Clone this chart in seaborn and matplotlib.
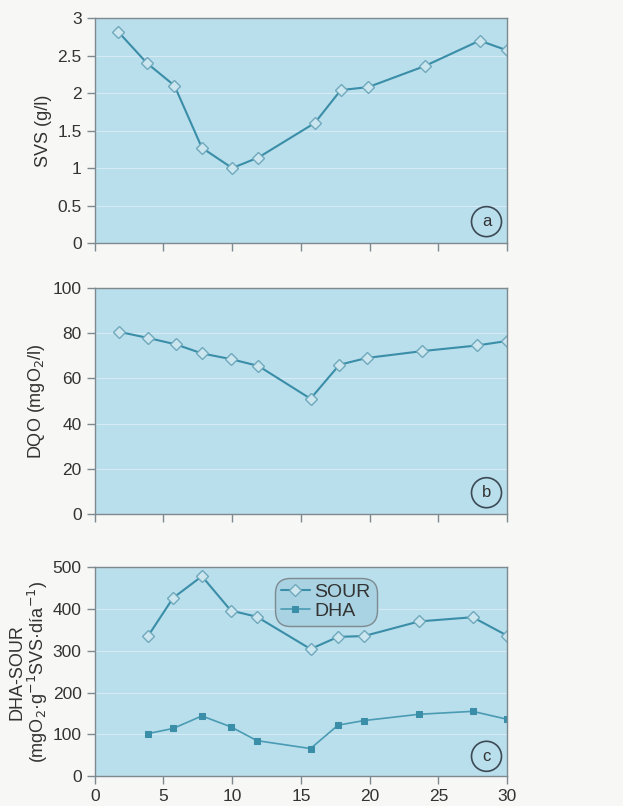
import matplotlib
matplotlib.use("Agg")
import matplotlib.pyplot as plt
import seaborn as sns
import pandas as pd

# datos
dias_svs = [1.7, 3.8, 5.8, 7.8, 10.0, 11.9, 16.0, 17.9, 19.9, 24.0, 28.0, 30.0]
svs = [2.82, 2.40, 2.10, 1.27, 1.00, 1.14, 1.60, 2.04, 2.08, 2.36, 2.70, 2.57]

dias_dqo = [1.8, 3.9, 5.9, 7.8, 9.9, 11.9, 15.7, 17.8, 19.8, 23.8, 27.8, 30.0]
dqo = [80.5, 77.8, 75.0, 71.0, 68.5, 65.5, 51.0, 66.0, 69.0, 72.0, 74.5, 76.5]

dias_c = [3.9, 5.7, 7.8, 9.9, 11.8, 15.7, 17.7, 19.6, 23.6, 27.5, 30.0]
sour = [336, 426, 478, 396, 381, 304, 333, 335, 370, 380, 336]
dha = [102, 114, 144, 118, 85, 66, 122, 133, 148, 155, 136]

fondo = "#b9deec"
linea = "#3a8ea8"
relleno = "#cbe6ef"

sns.set_style("ticks")
plt.rcParams["font.family"] = ["Liberation Sans", "DejaVu Sans"]

fig = plt.figure(figsize=(6.23, 8.06), dpi=100)
fig.patch.set_facecolor("#f7f7f5")

izq, ancho = 0.152, 0.662
ax_a = fig.add_axes([izq, 0.6985, ancho, 0.279])
ax_b = fig.add_axes([izq, 0.362, ancho, 0.281])
ax_c = fig.add_axes([izq, 0.037, ancho, 0.2595])

estilo = dict(color=linea, lw=1.5, marker="D", markersize=6.5,
              markerfacecolor=relleno, markeredgecolor="#6fa9bb",
              markeredgewidth=1.0)

sns.lineplot(x=dias_svs, y=svs, ax=ax_a, **estilo)
sns.lineplot(x=dias_dqo, y=dqo, ax=ax_b, **estilo)

df = pd.DataFrame({"dia": dias_c + dias_c,
                   "valor": sour + dha,
                   "serie": ["SOUR"] * len(sour) + ["DHA"] * len(dha)})
sns.lineplot(data=df[df.serie == "SOUR"], x="dia", y="valor", ax=ax_c,
             label="SOUR", **estilo)
sns.lineplot(data=df[df.serie == "DHA"], x="dia", y="valor", ax=ax_c,
             color="#4a9bb3", lw=1.2, marker="s", markersize=4.5,
             markerfacecolor="#3a8ea8", markeredgecolor="#3a8ea8",
             label="DHA")

ajustes = [
    (ax_a, (0, 3), [0, 0.5, 1, 1.5, 2, 2.5, 3], ["0", "0.5", "1", "1.5", "2", "2.5", "3"], "SVS (g/l)", "a"),
    (ax_b, (0, 100), [0, 20, 40, 60, 80, 100], ["0", "20", "40", "60", "80", "100"], "DQO (mgO$_2$/l)", "b"),
    (ax_c, (0, 500), [0, 100, 200, 300, 400, 500], ["0", "100", "200", "300", "400", "500"],
     "DHA-SOUR\n(mgO$_2$·g$^{-1}$SVS·día$^{-1}$)", "c"),
]

for ax, lim, ticks, etiquetas, ylab, letra in ajustes:
    ax.set_facecolor(fondo)
    ax.set_xlim(0, 30)
    ax.set_ylim(*lim)
    ax.set_yticks(ticks)
    ax.set_yticklabels(etiquetas)
    ax.set_xticks([0, 5, 10, 15, 20, 25, 30])
    ax.grid(axis="y", color="#d6ecf4", lw=0.8)
    ax.set_axisbelow(True)
    for s in ax.spines.values():
        s.set_color("#7d8a90")
        s.set_linewidth(1.0)
    ax.tick_params(axis="both", colors="#7d8a90", labelcolor="#333333",
                   labelsize=12.5, length=6, width=1.0, direction="out")
    ax.set_ylabel(ylab, fontsize=13, color="#333333", labelpad=4,
                  linespacing=1.0)
    ax.set_xlabel("")
    # letra del panel dentro de un circulo
    ax.text(0.95, 0.095, letra, transform=ax.transAxes, ha="center",
            va="center", fontsize=12, color="#333333",
            bbox=dict(boxstyle="circle,pad=0.45", facecolor="none",
                      edgecolor="#3c4a55", lw=1.2))

ax_a.tick_params(axis="x", labelbottom=False)
ax_b.tick_params(axis="x", labelbottom=False)
ax_c.yaxis.labelpad = 2

leg = ax_c.legend(loc="upper center", bbox_to_anchor=(0.56, 0.995),
                  fontsize=14, frameon=True, fancybox=True, handlelength=1.5,
                  borderpad=0.3, labelspacing=0.05, handletextpad=0.25)
leg.get_frame().set_facecolor("#a9d3e3")
leg.get_frame().set_edgecolor("#7d8a90")
leg.get_frame().set_alpha(1)
leg.get_frame().set_boxstyle("round,pad=0,rounding_size=0.8")
for t in leg.get_texts():
    t.set_color("#333333")

fig.savefig("out.png", dpi=100, facecolor=fig.get_facecolor())
